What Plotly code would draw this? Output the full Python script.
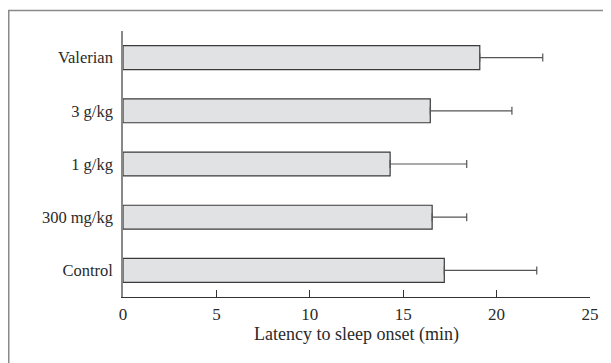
import plotly.graph_objects as go

categories = ["Control", "300 mg/kg", "1 g/kg", "3 g/kg", "Valerian"]
latency = [17.2, 16.55, 14.3, 16.45, 19.1]
error_plus = [4.95, 1.85, 4.1, 4.37, 3.37]
x_ticks = [0, 5, 10, 15, 20, 25]

fig = go.Figure()
fig.add_trace(go.Bar(
    y=categories, x=latency, orientation="h",
    width=0.45,
    marker=dict(color="#e1e2e4", line=dict(color="#3a3a3a", width=1.2)),
    error_x=dict(type="data", array=error_plus, symmetric=False, arrayminus=[0]*5,
                 color="#555555", thickness=1.2, width=4),
    showlegend=False,
))

fam = "Liberation Serif, Times New Roman, serif"
txt = "#2a2a2a"
fig.update_layout(
    width=603, height=355,
    margin=dict(l=115, r=21, t=23, b=66),
    paper_bgcolor="white", plot_bgcolor="white",
    font=dict(family=fam, size=16, color=txt),
    xaxis=dict(range=[0, 25], tickvals=x_ticks, ticks="inside", ticklen=7,
               tickcolor="#333333", showline=True, linecolor="#333333", linewidth=1.2,
               showgrid=False, zeroline=False, ticklabelstandoff=1,
               tickfont=dict(family=fam, size=17, color=txt),
               title=dict(text="Latency to sleep onset (min)", standoff=4,
                          font=dict(family=fam, size=18, color=txt))),
    yaxis=dict(showline=True, linecolor="#888888", linewidth=1.5, ticks="",
               showgrid=False, zeroline=False, ticklabelstandoff=5,
               tickfont=dict(family=fam, size=16.5, color=txt),
               range=[-0.5, 4.5]),
    shapes=[dict(type="rect", xref="paper", yref="paper",
                 x0=-0.2446, x1=1.2, y0=-0.4, y1=1.077,
                 line=dict(color="#8a8a8a", width=1.5), fillcolor="rgba(0,0,0,0)",
                 layer="below")],
)
fig.write_html("out.html")
